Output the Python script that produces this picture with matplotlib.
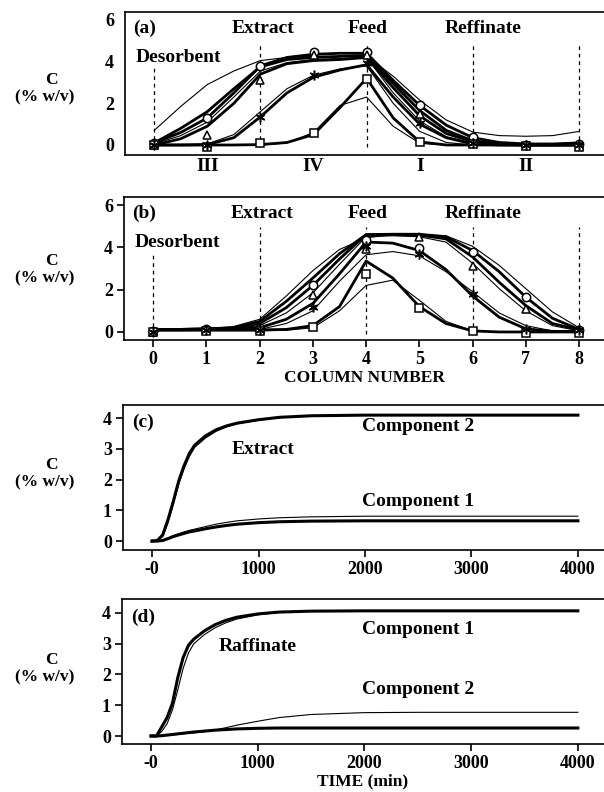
import matplotlib
matplotlib.use('Agg')
import matplotlib.pyplot as plt

plt.rcParams['font.family'] = ['Liberation Serif', 'DejaVu Serif']
plt.rcParams['font.weight'] = 'bold'
plt.rcParams['axes.labelweight'] = 'bold'

# column positions of the profiles
col_x = [0, 0.5, 1, 1.5, 2, 2.5, 3, 3.5, 4, 4.5, 5, 5.5, 6, 6.5, 7, 7.5, 8]
col_pts = [0, 1, 2, 3, 4, 5, 6, 7, 8]
port_cols = [0, 2, 4, 6, 8]
zone_cols = [1, 3, 5, 7]
zone_names = ['III', 'IV', 'I', 'II']

# (a) simulated profiles
a_curves = [
    [0.7, 1.85, 2.9, 3.55, 4.05, 4.2, 4.25, 4.25, 4.25, 3.3, 2.15, 1.2, 0.62, 0.45, 0.42, 0.45, 0.65],
    [0.1, 0.6, 1.3, 2.5, 3.8, 4.2, 4.35, 4.4, 4.4, 3.1, 1.9, 0.95, 0.35, 0.12, 0.05, 0.05, 0.1],
    [0.1, 0.8, 1.6, 2.7, 3.75, 4.1, 4.2, 4.25, 4.3, 2.95, 1.65, 0.7, 0.2, 0.05, 0.0, 0.0, 0.05],
    [0.0, 0.3, 0.9, 2.0, 3.4, 3.9, 4.05, 4.1, 4.2, 2.75, 1.4, 0.55, 0.15, 0.02, 0.0, 0.0, 0.0],
    [0.05, 0.45, 1.1, 2.3, 3.55, 3.95, 4.1, 4.15, 4.2, 2.5, 1.15, 0.4, 0.08, 0.0, 0.0, 0.0, 0.0],
    [0.0, 0.0, 0.02, 0.35, 1.35, 2.5, 3.25, 3.6, 3.85, 2.3, 1.0, 0.35, 0.05, 0.0, 0.0, 0.0, 0.0],
    [0.0, 0.0, 0.05, 0.5, 1.6, 2.7, 3.35, 3.65, 3.8, 2.0, 0.65, 0.12, 0.0, 0.0, 0.0, 0.0, 0.0],
    [0.0, 0.0, 0.0, 0.0, 0.02, 0.12, 0.5, 1.8, 3.2, 1.3, 0.15, 0.0, 0.0, 0.0, 0.0, 0.0, 0.0],
    [0.0, 0.0, 0.0, 0.0, 0.0, 0.1, 0.6, 1.9, 2.3, 0.9, 0.08, 0.0, 0.0, 0.0, 0.0, 0.0, 0.0],
]
a_widths = [0.8, 2.0, 2.0, 2.0, 0.8, 2.0, 0.8, 2.0, 0.8]

# (a) experimental points
a_circ = [0.1, 1.3, 3.8, 4.47, 4.48, 1.9, 0.4, 0.0, 0.05]
a_tri = [0.0, 0.48, 3.1, 4.3, 4.3, 1.5, 0.1, 0.0, -0.05]
a_star = [0.0, 0.0, 1.35, 3.36, 3.95, 1.05, 0.1, 0.0, 0.0]
a_sq = [0.0, -0.1, 0.1, 0.56, 3.17, 0.15, 0.05, -0.05, -0.1]

# (b) simulated profiles
b_curves = [
    [0.1, 0.12, 0.15, 0.25, 0.6, 1.7, 2.9, 3.9, 4.45, 4.6, 4.6, 4.55, 4.05, 3.15, 2.05, 0.95, 0.2],
    [0.12, 0.12, 0.15, 0.2, 0.5, 1.45, 2.55, 3.7, 4.6, 4.62, 4.62, 4.5, 3.85, 2.85, 1.65, 0.65, 0.12],
    [0.12, 0.12, 0.15, 0.18, 0.4, 1.15, 2.2, 3.45, 4.6, 4.6, 4.58, 4.4, 3.55, 2.35, 1.25, 0.4, 0.1],
    [0.1, 0.1, 0.12, 0.15, 0.3, 0.9, 1.85, 3.2, 4.5, 4.55, 4.5, 4.25, 3.25, 2.05, 1.0, 0.3, 0.05],
    [0.1, 0.1, 0.12, 0.13, 0.2, 0.6, 1.35, 2.75, 4.25, 4.2, 3.85, 2.95, 1.7, 0.7, 0.15, 0.03, 0.02],
    [0.1, 0.1, 0.1, 0.1, 0.12, 0.4, 1.0, 2.4, 3.65, 3.8, 3.6, 2.85, 1.9, 0.9, 0.3, 0.05, 0.02],
    [0.1, 0.1, 0.1, 0.1, 0.1, 0.12, 0.3, 1.2, 3.35, 2.55, 1.2, 0.4, 0.05, 0.0, 0.0, 0.0, 0.0],
    [0.05, 0.05, 0.05, 0.05, 0.05, 0.08, 0.2, 1.0, 2.2, 2.45, 1.5, 0.5, 0.05, 0.0, 0.0, 0.0, 0.0],
]
b_widths = [0.8, 2.0, 2.0, 0.8, 2.0, 0.8, 2.0, 0.8]

# (b) experimental points
b_circ = [0.05, 0.15, 0.2, 2.2, 4.35, 3.95, 3.8, 1.65, 0.1]
b_tri = [0.0, 0.1, 0.15, 1.75, 3.9, 4.5, 3.1, 1.1, 0.1]
b_star = [0.0, 0.1, 0.1, 1.2, 4.05, 3.7, 1.8, 0.15, 0.1]
b_sq = [0.0, 0.05, 0.05, 0.25, 2.72, 1.12, 0.05, -0.05, -0.05]

# (c), (d) time histories
t_min = [0, 50, 100, 150, 200, 250, 300, 350, 400, 500, 600, 700, 800,
         1000, 1200, 1500, 2000, 2500, 3000, 3500, 4000]
c_comp2_thick = [0, 0.02, 0.2, 0.7, 1.3, 1.95, 2.45, 2.85, 3.12, 3.42, 3.62, 3.75, 3.84,
                 3.95, 4.03, 4.08, 4.1, 4.1, 4.1, 4.1, 4.1]
c_comp2_thin = [0, 0.01, 0.15, 0.6, 1.2, 1.85, 2.35, 2.75, 3.05, 3.35, 3.57, 3.72, 3.82,
                3.94, 4.02, 4.07, 4.1, 4.11, 4.11, 4.11, 4.11]
c_comp1_thick = [0, 0, 0.02, 0.08, 0.15, 0.2, 0.25, 0.3, 0.33, 0.4, 0.46, 0.51, 0.55,
                 0.6, 0.63, 0.65, 0.66, 0.66, 0.66, 0.66, 0.66]
c_comp1_thin = [0, 0, 0.03, 0.1, 0.18, 0.24, 0.3, 0.35, 0.39, 0.47, 0.55, 0.61, 0.66,
                0.72, 0.76, 0.79, 0.81, 0.81, 0.81, 0.81, 0.81]
d_comp1_thick = [0, 0, 0.3, 0.6, 1.07, 1.9, 2.55, 2.95, 3.15, 3.42, 3.62, 3.76, 3.86,
                 3.97, 4.03, 4.06, 4.07, 4.07, 4.07, 4.07, 4.07]
d_comp1_thin = [0, 0, 0.15, 0.4, 0.85, 1.5, 2.2, 2.7, 3.0, 3.3, 3.52, 3.68, 3.8,
                3.94, 4.02, 4.06, 4.07, 4.07, 4.07, 4.07, 4.07]
d_comp2_thick = [0, 0, 0.01, 0.03, 0.05, 0.07, 0.09, 0.11, 0.13, 0.16, 0.19, 0.21, 0.23,
                 0.25, 0.26, 0.26, 0.26, 0.26, 0.26, 0.26, 0.26]
d_comp2_thin = [0, 0, 0.01, 0.02, 0.04, 0.05, 0.07, 0.09, 0.1, 0.14, 0.2, 0.27, 0.35,
                0.48, 0.6, 0.7, 0.76, 0.77, 0.77, 0.77, 0.77]
t_ticks = [0, 1000, 2000, 3000, 4000]
t_labels = ['-0', '1000', '2000', '3000', '4000']

W, H = 604, 792
fig = plt.figure(figsize=(W / 100, H / 100), dpi=100)
FS = 14


def px_axes(left, top, bottom):
    return fig.add_axes([left / W, 1 - bottom / H, 1.0 - left / W, (bottom - top) / H])


def frame(ax):
    ax.spines['right'].set_visible(False)
    for s in ax.spines.values():
        s.set_linewidth(1.2)
    ax.tick_params(labelsize=13, width=1.2, length=5, direction='out', pad=3)


def ylab(ytop):
    fig.text(51 / W, 1 - (ytop - 2) / H, 'C', ha='center', va='center', fontsize=12.5)
    fig.text(45 / W, 1 - (ytop + 15) / H, '(% w/v)', ha='center', va='center', fontsize=12.5)


def profile_panel(ax, curves, widths, pts, tag):
    for y, lw in zip(curves, widths):
        ax.plot(col_x, y, color='black', lw=lw, solid_capstyle='round')
    circ, tri, star, sq = pts
    mk = dict(color='black', ls='none', mfc='white', mec='black', mew=1.1, ms=6, zorder=5)
    ax.plot(col_pts, circ, marker='o', **mk)
    ax.plot(col_pts, tri, marker='^', **mk)
    ax.plot(col_pts, sq, marker='s', **mk)
    ax.plot(col_pts, star, marker=(6, 2, 0), color='black', ls='none', ms=7, mew=1.1, zorder=5)
    ax.vlines(port_cols[1:], -0.1, 4.95, colors='black', linestyles=(0, (3, 3)), lw=0.9)
    ax.vlines(port_cols[:1], -0.1, 3.7, colors='black', linestyles=(0, (3, 3)), lw=0.9)
    ax.set_xlim(-0.55, 8.47)
    ax.set_yticks([0, 2, 4, 6])
    ax.text(-0.4, 5.6, tag, fontsize=FS, va='center')
    ax.text(0.45, 4.22, 'Desorbent', fontsize=FS, va='center', ha='center')
    ax.text(2.05, 5.6, 'Extract', fontsize=FS, va='center', ha='center')
    ax.text(4.02, 5.6, 'Feed', fontsize=FS, va='center', ha='center')
    ax.text(6.2, 5.6, 'Reffinate', fontsize=FS, va='center', ha='center')


# panel (a)
ax_a = px_axes(125, 12, 155)
frame(ax_a)
profile_panel(ax_a, a_curves, a_widths, (a_circ, a_tri, a_star, a_sq), '(a)')
ax_a.set_ylim(-0.48, 6.38)
ax_a.set_xticks([])
ax_a.tick_params(axis='y', length=0, pad=8)
for c, n in zip(zone_cols, zone_names):
    ax_a.text(c, -1.05, n, fontsize=FS, ha='center', va='center')
ylab(82)

# panel (b)
ax_b = px_axes(124, 197, 340)
frame(ax_b)
profile_panel(ax_b, b_curves, b_widths, (b_circ, b_tri, b_star, b_sq), '(b)')
ax_b.set_ylim(-0.38, 6.38)
ax_b.set_xticks(col_pts)
ax_b.set_xlabel('COLUMN NUMBER', fontsize=12.5, labelpad=1)
ylab(263)

# panel (c)
ax_c = px_axes(123, 405, 550)
frame(ax_c)
ax_c.plot(t_min, c_comp2_thin, color='black', lw=0.8)
ax_c.plot(t_min, c_comp2_thick, color='black', lw=2.2)
ax_c.plot(t_min, c_comp1_thin, color='black', lw=0.8)
ax_c.plot(t_min, c_comp1_thick, color='black', lw=2.2)
ax_c.set_xlim(-273, 4245)
ax_c.set_ylim(-0.29, 4.43)
ax_c.set_yticks([0, 1, 2, 3, 4])
ax_c.set_xticks(t_ticks)
ax_c.set_xticklabels(t_labels)
ax_c.text(-190, 3.88, '(c)', fontsize=FS, va='center')
ax_c.text(2500, 3.72, 'Component 2', fontsize=FS, va='center', ha='center')
ax_c.text(1045, 2.97, 'Extract', fontsize=FS, va='center', ha='center')
ax_c.text(2500, 1.3, 'Component 1', fontsize=FS, va='center', ha='center')
ylab(467)

# panel (d)
ax_d = px_axes(122, 599, 744)
frame(ax_d)
ax_d.plot(t_min, d_comp1_thin, color='black', lw=0.8)
ax_d.plot(t_min, d_comp1_thick, color='black', lw=2.2)
ax_d.plot(t_min, d_comp2_thin, color='black', lw=0.8)
ax_d.plot(t_min, d_comp2_thick, color='black', lw=2.2)
ax_d.set_xlim(-273, 4245)
ax_d.set_ylim(-0.26, 4.455)
ax_d.set_yticks([0, 1, 2, 3, 4])
ax_d.set_xticks(t_ticks)
ax_d.set_xticklabels(t_labels)
ax_d.set_xlabel('TIME (min)', fontsize=12.5, labelpad=1)
ax_d.text(-190, 3.87, '(d)', fontsize=FS, va='center')
ax_d.text(2500, 3.45, 'Component 1', fontsize=FS, va='center', ha='center')
ax_d.text(1000, 2.92, 'Raffinate', fontsize=FS, va='center', ha='center')
ax_d.text(2500, 1.5, 'Component 2', fontsize=FS, va='center', ha='center')
ylab(662)

fig.savefig('out.png', dpi=100)
